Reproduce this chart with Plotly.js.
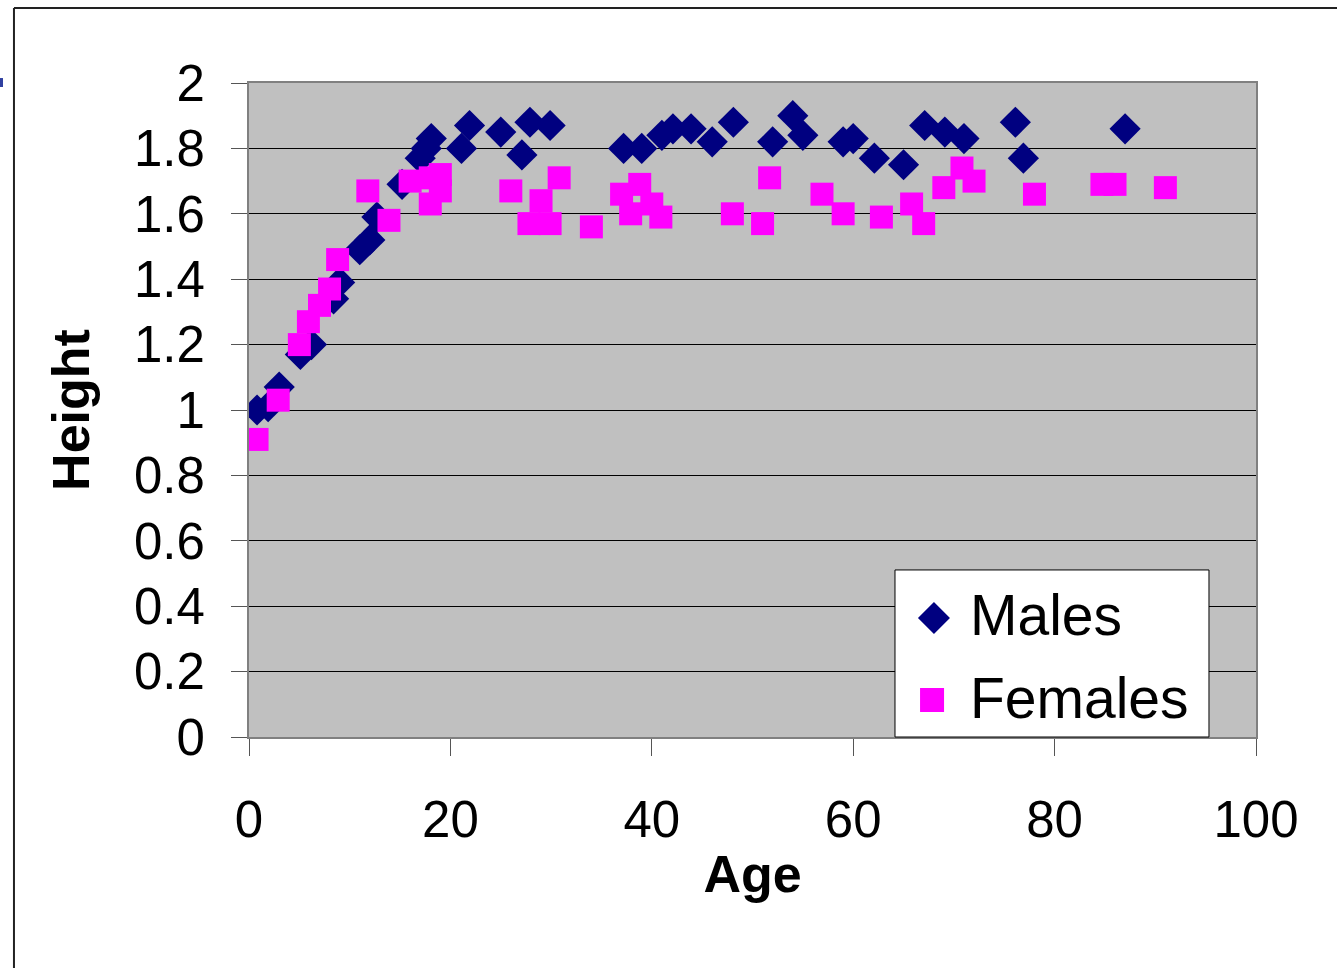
<!DOCTYPE html>
<html>
<head>
<meta charset="utf-8">
<script src="https://cdn.plot.ly/plotly-3.0.1.min.js"></script>
<style>html,body{margin:0;padding:0;background:#fff;}#chart{width:1337px;height:968px;}</style>
</head>
<body>
<div id="chart"></div>
<script>
// Males
const maleAge = [0.8, 1.9, 3.0, 5.1, 6.2, 8.4, 9.0, 11.0, 12.0, 12.7, 15.2, 17.0, 17.6, 18.1, 21.1, 21.9, 25.0, 27.1, 27.9, 29.9, 37.2, 39.0, 41.0, 42.1, 43.9, 46.0, 48.1, 52.0, 54.0, 55.0, 59.0, 60.0, 62.1, 65.0, 67.1, 69.1, 71.0, 76.1, 76.9, 87.0];
const maleHeight = [1.00, 1.01, 1.07, 1.17, 1.20, 1.34, 1.39, 1.49, 1.52, 1.59, 1.69, 1.77, 1.80, 1.83, 1.80, 1.87, 1.85, 1.78, 1.88, 1.87, 1.80, 1.80, 1.84, 1.86, 1.86, 1.82, 1.88, 1.82, 1.90, 1.84, 1.82, 1.83, 1.77, 1.75, 1.87, 1.85, 1.83, 1.88, 1.77, 1.86];
// Females
const femaleAge = [0.8, 2.9, 5.0, 5.9, 7.0, 8.0, 8.8, 11.8, 13.9, 16.0, 18.0, 19.0, 19.0, 18.0, 26.0, 27.8, 29.0, 29.9, 30.8, 34.0, 37.0, 37.9, 38.8, 40.0, 40.9, 48.0, 51.0, 51.7, 56.9, 59.0, 62.8, 65.8, 67.0, 69.0, 70.8, 72.0, 78.0, 84.7, 86.0, 91.0];
const femaleHeight = [0.91, 1.03, 1.20, 1.27, 1.32, 1.37, 1.46, 1.67, 1.58, 1.70, 1.71, 1.72, 1.67, 1.63, 1.67, 1.57, 1.64, 1.57, 1.71, 1.56, 1.66, 1.60, 1.69, 1.63, 1.59, 1.60, 1.57, 1.71, 1.66, 1.60, 1.59, 1.63, 1.57, 1.68, 1.74, 1.70, 1.66, 1.69, 1.69, 1.68];

const seriesNames = ["Males", "Females"];
const xTickVals = [0, 20, 40, 60, 80, 100];
const yTickVals = [0, 0.2, 0.4, 0.6, 0.8, 1, 1.2, 1.4, 1.6, 1.8, 2];

const FONT = "Liberation Sans, Arial, Helvetica, sans-serif";
const NAVY = "#000080", MAGENTA = "#FF00FF";

const traces = [
  {x: maleAge, y: maleHeight, name: seriesNames[0], type: "scatter", mode: "markers",
   marker: {symbol: "diamond", size: 24, color: NAVY, line: {width: 0}}},
  {x: femaleAge, y: femaleHeight, name: seriesNames[1], type: "scatter", mode: "markers",
   marker: {symbol: "square", size: 23, color: MAGENTA, line: {width: 0}}}
];

const layout = {
  width: 1337, height: 968,
  margin: {l: 249, r: 81, t: 83, b: 231, pad: 0},
  paper_bgcolor: "#ffffff",
  plot_bgcolor: "#C0C0C0",
  showlegend: false,
  font: {family: FONT, color: "#000"},
  xaxis: {
    range: [0, 100], tickvals: xTickVals, ticktext: xTickVals.map(String),
    showgrid: false, zeroline: false,
    showline: true, mirror: true, linecolor: "#808080", linewidth: 2,
    ticks: "outside", ticklen: 17, tickwidth: 1, tickcolor: "#555",
    tickfont: {size: 51, family: FONT, color: "#000"},
    ticklabelstandoff: 20,
    title: {text: "<b>Age</b>", font: {size: 52, family: FONT, color: "#000"}, standoff: 8},
    automargin: false, fixedrange: true
  },
  yaxis: {
    range: [0, 2], tickvals: yTickVals, ticktext: yTickVals.map(String),
    showgrid: true, gridcolor: "#000", gridwidth: 1, zeroline: false,
    showline: true, mirror: true, linecolor: "#808080", linewidth: 2,
    ticks: "outside", ticklen: 16, tickwidth: 1, tickcolor: "#555",
    tickfont: {size: 51, family: FONT, color: "#000"},
    ticklabelstandoff: 16,
    title: {text: "<b>Height</b>", font: {size: 52, family: FONT, color: "#000"}, standoff: 28},
    automargin: false, fixedrange: true
  },
  shapes: [
    // outer frame
    {type: "line", xref: "paper", yref: "paper", x0: -0.2334, x1: 1.09, y0: 1.1147, y1: 1.1147, line: {color: "#222", width: 2}},
    {type: "line", xref: "paper", yref: "paper", x0: -0.2334, x1: -0.2334, y0: 1.1147, y1: -0.36, line: {color: "#222", width: 2}},
    // small blue fragment at left edge
    {type: "rect", xref: "paper", yref: "paper", x0: -0.2473, x1: -0.2443, y0: 0.9939, y1: 1.0076, fillcolor: "#3040a0", line: {width: 0}},
    // legend box
    {type: "rect", xref: "paper", yref: "paper", layer: "above", x0: 0.6415, x1: 0.9533, y0: 0.0, y1: 0.2554,
     fillcolor: "#ffffff", line: {color: "#000", width: 1}},
    // legend diamond
    {type: "path", xref: "paper", yref: "paper", layer: "above", xsizemode: "pixel", ysizemode: "pixel",
     xanchor: 0.6802, yanchor: 0.1820, path: "M -16 0 L 0 16 L 16 0 L 0 -16 Z", fillcolor: NAVY, line: {width: 0}},
    // legend square
    {type: "path", xref: "paper", yref: "paper", layer: "above", xsizemode: "pixel", ysizemode: "pixel",
     xanchor: 0.6783, yanchor: 0.0566, path: "M -12 -12 L 12 -12 L 12 12 L -12 12 Z", fillcolor: MAGENTA, line: {width: 0}}
  ],
  annotations: [
    {xref: "paper", yref: "paper", x: 0.714, y: 0.1865, xanchor: "left", yanchor: "middle", showarrow: false,
     text: seriesNames[0], font: {size: 57, family: FONT, color: "#000"}},
    {xref: "paper", yref: "paper", x: 0.714, y: 0.0597, xanchor: "left", yanchor: "middle", showarrow: false,
     text: seriesNames[1], font: {size: 57, family: FONT, color: "#000"}}
  ]
};

Plotly.newPlot("chart", traces, layout, {staticPlot: true, displayModeBar: false});
</script>
</body>
</html>
